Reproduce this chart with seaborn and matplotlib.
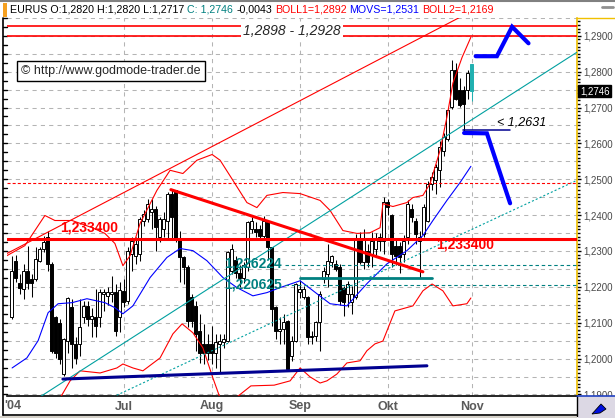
import numpy as np
import pandas as pd
import matplotlib
matplotlib.use("Agg")
import matplotlib.pyplot as plt
import matplotlib.patches as patches
from matplotlib.lines import Line2D
from matplotlib.ticker import MultipleLocator, FuncFormatter
import seaborn as sns

# ------------------------------------------------------------
# Daten: EUR/USD Tageskerzen (Tag 0 = 24.05.2004 ... Tag 115 = 01.11.2004)
# ------------------------------------------------------------
opens = [1.2115, 1.2273, 1.2212, 1.2194, 1.2245, 1.2222, 1.2222, 1.2273, 1.2306, 1.2338,
         1.2264, 1.2115, 1.2100, 1.1958, 1.2050, 1.2143, 1.2040, 1.2040, 1.2115, 1.2147,
         1.2110, 1.2115, 1.2115, 1.2180, 1.2175, 1.2180, 1.2185, 1.2115, 1.2189, 1.2161,
         1.2292, 1.2287, 1.2292, 1.2385, 1.2390, 1.2410, 1.2418, 1.2338, 1.2362, 1.2385,
         1.2460, 1.2469, 1.2334, 1.2282, 1.2255, 1.2171, 1.2147, 1.2077, 1.2040, 1.2040,
         1.2040, 1.2017, 1.2040, 1.2045, 1.2050, 1.2245, 1.2275, 1.2240, 1.2225, 1.2255,
         1.2362, 1.2362, 1.2362, 1.2343, 1.2380, 1.2310, 1.2143, 1.2077, 1.2082, 1.2105,
         1.2008, 1.2050, 1.2185, 1.2171, 1.2171, 1.2064, 1.2064, 1.2101, 1.2222, 1.2236,
         1.2269, 1.2264, 1.2255, 1.2198, 1.2180, 1.2157, 1.2171, 1.2334, 1.2269, 1.2300,
         1.2292, 1.2306, 1.2329, 1.2329, 1.2436, 1.2399, 1.2315, 1.2315, 1.2292, 1.2338,
         1.2418, 1.2385, 1.2329, 1.2348, 1.2385, 1.2487, 1.2497, 1.2525, 1.2580, 1.2613,
         1.2702, 1.2804, 1.2748, 1.2748, 1.2748, 1.2820]
highs = [1.2287, 1.2290, 1.2236, 1.2264, 1.2315, 1.2236, 1.2310, 1.2310, 1.2343, 1.2357,
         1.2268, 1.2120, 1.2110, 1.2058, 1.2171, 1.2166, 1.2060, 1.2166, 1.2161, 1.2161,
         1.2140, 1.2194, 1.2194, 1.2194, 1.2200, 1.2230, 1.2208, 1.2213, 1.2222, 1.2310,
         1.2338, 1.2340, 1.2394, 1.2415, 1.2445, 1.2445, 1.2425, 1.2395, 1.2410, 1.2464,
         1.2469, 1.2470, 1.2357, 1.2287, 1.2260, 1.2180, 1.2161, 1.2124, 1.2096, 1.2070,
         1.2092, 1.2068, 1.2068, 1.2070, 1.2301, 1.2320, 1.2285, 1.2260, 1.2268, 1.2385,
         1.2395, 1.2380, 1.2372, 1.2398, 1.2385, 1.2312, 1.2148, 1.2115, 1.2124, 1.2108,
         1.2064, 1.2212, 1.2220, 1.2203, 1.2175, 1.2077, 1.2105, 1.2189, 1.2255, 1.2320,
         1.2290, 1.2275, 1.2264, 1.2203, 1.2215, 1.2203, 1.2347, 1.2352, 1.2360, 1.2320,
         1.2352, 1.2350, 1.2350, 1.2450, 1.2445, 1.2404, 1.2330, 1.2325, 1.2345, 1.2441,
         1.2430, 1.2392, 1.2357, 1.2432, 1.2495, 1.2520, 1.2543, 1.2608, 1.2630, 1.2697,
         1.2832, 1.2823, 1.2781, 1.2760, 1.2804, 1.2820]
lows = [1.2110, 1.2213, 1.2180, 1.2166, 1.2194, 1.2171, 1.2217, 1.2268, 1.2296, 1.2245,
        1.2017, 1.2003, 1.1985, 1.1952, 1.2017, 1.1975, 1.1985, 1.2008, 1.2100, 1.2090,
        1.2060, 1.2059, 1.2087, 1.2133, 1.2150, 1.2157, 1.2063, 1.2073, 1.2143, 1.2152,
        1.2245, 1.2265, 1.2273, 1.2370, 1.2380, 1.2360, 1.2301, 1.2325, 1.2338, 1.2334,
        1.2330, 1.2325, 1.2213, 1.2208, 1.2087, 1.2087, 1.2022, 1.1989, 1.1985, 1.1995,
        1.1985, 1.1975, 1.1961, 1.2030, 1.2045, 1.2235, 1.2225, 1.2200, 1.2210, 1.2245,
        1.2350, 1.2340, 1.2330, 1.2335, 1.2278, 1.2090, 1.2054, 1.2040, 1.2040, 1.1966,
        1.1994, 1.2045, 1.2170, 1.2166, 1.2040, 1.2040, 1.2050, 1.2022, 1.2210, 1.2200,
        1.2255, 1.2245, 1.2150, 1.2119, 1.2143, 1.2124, 1.2166, 1.2264, 1.2250, 1.2255,
        1.2255, 1.2290, 1.2300, 1.2292, 1.2400, 1.2255, 1.2260, 1.2240, 1.2270, 1.2320,
        1.2380, 1.2320, 1.2225, 1.2340, 1.2380, 1.2470, 1.2459, 1.2478, 1.2565, 1.2608,
        1.2697, 1.2720, 1.2702, 1.2631, 1.2725, 1.2717]
closes = [1.2245, 1.2226, 1.2197, 1.2245, 1.2212, 1.2212, 1.2278, 1.2306, 1.2324, 1.2264,
          1.2022, 1.2017, 1.2000, 1.2054, 1.2168, 1.2040, 1.2003, 1.2087, 1.2147, 1.2110,
          1.2120, 1.2092, 1.2185, 1.2185, 1.2185, 1.2185, 1.2077, 1.2190, 1.2157, 1.2300,
          1.2329, 1.2320, 1.2390, 1.2404, 1.2432, 1.2418, 1.2366, 1.2390, 1.2390, 1.2460,
          1.2394, 1.2334, 1.2282, 1.2255, 1.2105, 1.2105, 1.2068, 1.2017, 1.2017, 1.2017,
          1.2017, 1.2045, 1.2050, 1.2054, 1.2296, 1.2305, 1.2240, 1.2225, 1.2262, 1.2380,
          1.2385, 1.2352, 1.2343, 1.2385, 1.2310, 1.2138, 1.2077, 1.2082, 1.2101, 1.1970,
          1.2050, 1.2208, 1.2194, 1.2194, 1.2059, 1.2059, 1.2101, 1.2180, 1.2245, 1.2273,
          1.2287, 1.2250, 1.2161, 1.2157, 1.2208, 1.2180, 1.2334, 1.2269, 1.2335, 1.2270,
          1.2329, 1.2334, 1.2338, 1.2436, 1.2422, 1.2292, 1.2287, 1.2283, 1.2329, 1.2432,
          1.2394, 1.2348, 1.2338, 1.2422, 1.2487, 1.2506, 1.2534, 1.2590, 1.2618, 1.2692,
          1.2804, 1.2725, 1.2706, 1.2710, 1.2795, 1.2746]

# Bollinger-Baender und gleitender Durchschnitt (Stuetzpunkte: Tag, Kurs)
boll1_day = [-1.2, 3.3, 8.3, 10.8, 15.1, 20.1, 23.3, 25.8, 27.8, 29.6, 32.1, 36.3, 39.6, 42.8,
             46.3, 50.1, 52.1, 55.3, 58.8, 61.3, 63.8, 67.8, 72.1, 77.1, 79.6, 82.8, 86.3,
             89.6, 92.1, 92.8, 95.3, 98.8, 100.3, 102.8, 104.6, 107.1, 108.8, 110.3, 112.6, 114.8]
boll1_val = [1.2287, 1.2315, 1.2399, 1.2385, 1.2385, 1.2365, 1.2349, 1.2321, 1.2259, 1.2287,
             1.2377, 1.2469, 1.2525, 1.2516, 1.2553, 1.2569, 1.2553, 1.2497, 1.2435, 1.2421,
             1.2455, 1.2463, 1.2460, 1.2441, 1.2413, 1.2357, 1.2349, 1.2351, 1.2365, 1.2432,
             1.2424, 1.2435, 1.2449, 1.2455, 1.2488, 1.2581, 1.2673, 1.2768, 1.2840, 1.2896]
boll2_day = [10.8, 12.1, 14.6, 17.1, 22.1, 26.3, 27.8, 30.3, 32.8, 37.1, 40.3, 42.6, 45.3,
             47.8, 50.3, 52.1, 53.3, 55.1, 56.3, 59.8, 65.6, 69.6, 72.1, 74.6, 77.1, 78.8,
             81.3, 83.8, 87.1, 88.8, 90.8, 92.8, 95.8, 100.3, 102.8, 105.1, 107.8, 110.3, 113.8, 114.8]
boll2_val = [1.1881, 1.1890, 1.1938, 1.1966, 1.1960, 1.1974, 1.1985, 1.1974, 1.1966, 1.2002,
             1.2069, 1.2097, 1.2072, 1.2030, 1.1946, 1.1890, 1.1848, 1.1848, 1.1893, 1.1924,
             1.1926, 1.1938, 1.1974, 1.1949, 1.1932, 1.1938, 1.1957, 1.1988, 1.1994, 1.2022,
             1.2041, 1.2049, 1.2133, 1.2147, 1.2189, 1.2208, 1.2189, 1.2147, 1.2153, 1.2169]
movs_day = [0.1, 3.8, 6.6, 9.1, 11.6, 15.1, 18.8, 23.3, 25.8, 27.8, 30.3, 34.6, 38.8, 42.1,
            45.3, 48.8, 52.8, 56.3, 60.3, 63.8, 67.1, 72.1, 76.3, 79.6, 83.8, 88.8, 93.8,
            98.8, 102.8, 105.3, 108.8, 112.1, 114.8]
movs_val = [1.1974, 1.2002, 1.2050, 1.2128, 1.2153, 1.2156, 1.2167, 1.2156, 1.2142, 1.2125,
            1.2147, 1.2226, 1.2282, 1.2307, 1.2301, 1.2273, 1.2226, 1.2198, 1.2175, 1.2184,
            1.2198, 1.2217, 1.2181, 1.2153, 1.2147, 1.2209, 1.2264, 1.2301, 1.2343, 1.2385,
            1.2441, 1.2491, 1.2536]

# Trendlinien und Marken (Tag, Kurs)
channel_red = [(-1.2, 1.2293), (111.8, 1.2950)]
channel_teal = [(6.6, 1.1890), (141.3, 1.2854)]
channel_teal_dotted = [(25.3, 1.1893), (141.3, 1.2497)]
triangle_top = [(39.8, 1.2471), (102.8, 1.2242)]
support_line = [(12.8, 1.1943), (103.8, 1.1980)]
target_up = [(116.0, 1.2843), (121.3, 1.2843), (125.1, 1.2925), (129.2, 1.2879)]
target_down = [(113.1, 1.2629), (118.8, 1.2628), (124.6, 1.2433)]
stop_line = [(112.8, 1.2637), (124.6, 1.2637)]
zone_levels = [1.2898, 1.2928]
key_level = 1.2334
dash_level = 1.2489
teal_levels = [1.226224, 1.220625]
teal_box = [(72.1, 1.2224), (105.1, 1.2224)]

month_days = [28, 50, 72, 94, 115]
month_labels = ["Jul", "Aug", "Sep", "Okt", "Nov"]
last_close = closes[-1]

header_parts = ["EURUS O:1,2820 H:1,2820 L:1,2717", "C: 1,2746", "-0,0043",
                "BOLL1=1,2892", "MOVS=1,2531", "BOLL2=1,2169"]

# ------------------------------------------------------------
# Stil
# ------------------------------------------------------------
sns.set_style("white")
plt.rcParams["font.family"] = ["Liberation Sans", "DejaVu Sans"]
plt.rcParams["lines.scale_dashes"] = False

W, H = 615, 418
fig = plt.figure(figsize=(W / 100, H / 100), dpi=100, facecolor="white")
ax = fig.add_axes([7 / W, 1 - 396 / H, 570 / W, 378 / H])
ax.set_facecolor("white")

RED = "#ff0000"
BLUE = "#0000ff"
NAVY = "#000090"
TEAL = "#00a0a0"
TEAL_D = "#008080"

# Raster
for d in month_days:
    ax.axvline(d - 0.05, color="#b4b4b4", lw=0.75, ls=(0, (3, 3)), zorder=1)
for lvl in np.arange(1.190, 1.2951, 0.005):
    ax.axhline(lvl, color="#b4b4b4", lw=0.75, ls=(0, (3, 3)), zorder=1)

# Kerzen
df = pd.DataFrame({"O": opens, "H": highs, "L": lows, "C": closes})
df["day"] = np.arange(len(df))
hist = df.iloc[:-1]
up = hist["C"] >= hist["O"]
ax.vlines(hist["day"], hist["L"], hist["H"], color="black", lw=0.75, zorder=3)
ax.bar(hist["day"], (hist["C"] - hist["O"]).abs(), bottom=hist[["O", "C"]].min(axis=1),
       width=0.72, color=np.where(up, "white", "black"), edgecolor="black", linewidth=0.7, zorder=3)
last = df.iloc[-1]
ax.vlines(last["day"], last["L"], last["H"], color="#20b0b0", lw=0.75, zorder=3)
ax.bar(last["day"], abs(last["C"] - last["O"]), bottom=min(last["O"], last["C"]),
       width=0.72, color="#20b0b0", edgecolor="#20b0b0", linewidth=0.7, zorder=3)

# Indikatoren
sns.lineplot(x=boll1_day, y=boll1_val, ax=ax, color=RED, lw=0.8, estimator=None, sort=False, zorder=4)
sns.lineplot(x=boll2_day, y=boll2_val, ax=ax, color=RED, lw=0.8, estimator=None, sort=False, zorder=4)
sns.lineplot(x=movs_day, y=movs_val, ax=ax, color=BLUE, lw=0.8, estimator=None, sort=False, zorder=4)


def seg(points, **kw):
    xs, ys = zip(*points)
    ax.plot(xs, ys, **kw)


seg(channel_red, color=RED, lw=0.8, zorder=4)
seg(channel_teal, color=TEAL, lw=0.8, zorder=4)
seg(channel_teal_dotted, color=TEAL, lw=0.8, ls=(0, (1.5, 1.5)), zorder=4)
seg(triangle_top, color=RED, lw=2.2, zorder=5)
seg(support_line, color=NAVY, lw=2.2, zorder=5)
seg(teal_box, color=TEAL_D, lw=2.0, zorder=5)
seg(stop_line, color=NAVY, lw=1.1, zorder=5)
seg(target_up, color=BLUE, lw=3.0, zorder=6, solid_joinstyle="miter")
seg(target_down, color=BLUE, lw=3.0, zorder=6, solid_joinstyle="miter")

for lvl in zone_levels:
    ax.axhline(lvl, color=RED, lw=1.2, zorder=4)
ax.axhline(key_level, color=RED, lw=2.2, zorder=5)
ax.axhline(dash_level, color=RED, lw=0.8, ls=(0, (2.2, 1.5)), zorder=4)
for lvl in teal_levels:
    ax.plot([68.3, 141.4], [lvl, lvl], color=TEAL_D, lw=0.8, ls=(0, (2.5, 2)), zorder=4)

# Beschriftungen im Chart
ax.text(70.1, 1.2913, "1,2898 - 1,2928", fontsize=10, style="italic", ha="center", va="center",
        bbox=dict(facecolor="white", edgecolor="none", pad=1.5), zorder=7)
ax.text(12.1, 1.2365, "1,233400", fontsize=10, fontweight="bold", color=RED, ha="left", va="center", zorder=7)
ax.text(106.1, 1.2318, "1,233400", fontsize=10, fontweight="bold", color=RED, ha="left", va="center", zorder=7)
ax.text(53.1, 1.2264, "1,226224", fontsize=10, fontweight="bold", color=TEAL_D, ha="left", va="center", zorder=7)
ax.text(53.1, 1.2206, "1,220625", fontsize=10, fontweight="bold", color=TEAL_D, ha="left", va="center", zorder=7)
ax.text(121.3, 1.2659, "< 1,2631", fontsize=9, style="italic", color="black", ha="left", va="center", zorder=7)
fig.text(21 / W, 1 - 71 / H, "\u00a9 http://www.godmode-trader.de", fontsize=9, ha="left", va="center",
         bbox=dict(boxstyle="square,pad=0.35", facecolor="white", edgecolor="black", lw=1), zorder=8)

# Achsen
ax.set_xlim(-1.175, 141.325)
ax.set_ylim(1.18958, 1.29495)
ax.set_xlabel("")
ax.set_ylabel("")
ax.set_xticks([])
ax.yaxis.tick_right()
ax.yaxis.set_major_locator(MultipleLocator(0.01))
ax.yaxis.set_minor_locator(MultipleLocator(0.001))
ax.yaxis.set_major_formatter(FuncFormatter(lambda v, p: f"{v:.4f}".replace(".", ",")))
ax.tick_params(axis="y", which="major", length=3, width=1, color="black", labelsize=7,
               labelcolor="#484848", pad=1.5)
ax.tick_params(axis="y", which="minor", length=2, width=1, color="black")
for side in ["top", "left"]:
    ax.spines[side].set_visible(False)
ax.spines["bottom"].set_color("black")
ax.spines["bottom"].set_linewidth(1.2)
ax.spines["right"].set_color("#f0c000")
ax.spines["right"].set_linewidth(1.2)

# linke Skalenstriche
ytr = ax.get_yaxis_transform()
for lvl in np.arange(1.190, 1.2951, 0.0025):
    ax.plot([-0.007, 0], [lvl, lvl], transform=ytr, color="black", lw=1, clip_on=False)
fig.add_artist(Line2D([2.7 / W, 2.7 / W], [1 - 18 / H, 1 - 415 / H], color="black", lw=1.2))

# aktueller Kurs
ax.text(1.005, last_close, f"{last_close:.4f}".replace(".", ","), transform=ytr, fontsize=7,
        color="white", ha="left", va="center", clip_on=False,
        bbox=dict(facecolor="black", edgecolor="black", pad=1.0), zorder=9)

# Zeitachse
xtr = ax.get_xaxis_transform()
for d, lab in zip(month_days, month_labels):
    ax.text(d, -10.5 / 378, lab, transform=xtr, fontsize=9, fontweight="bold", color="#5a5a5a",
            ha="center", va="center", clip_on=False)
fig.text(4 / W, 1 - 406 / H, "'04", fontsize=9, fontweight="bold", color="#5a5a5a", ha="left", va="center")
fig.add_artist(Line2D([2.7 / W, 577 / W], [1 - 415 / H, 1 - 415 / H], color="black", lw=1.2))
fig.add_artist(Line2D([577 / W, 577 / W], [1 - 396 / H, 1 - 416 / H], color="black", lw=1))

# Rahmen / Kopfzeile
fig.add_artist(patches.Rectangle((0, 0), 577 / W, 2.5 / H, transform=fig.transFigure,
                                 facecolor="#d4d0c8", edgecolor="none"))
fig.add_artist(patches.Rectangle((577.5 / W, 0), 37.5 / W, 22 / H, transform=fig.transFigure,
                                 facecolor="#dcd8e4", edgecolor="none"))
fig.add_artist(Line2D([577 / W, 1], [1 - 396 / H, 1 - 396 / H], color="#2040c0", lw=1.2))
fig.add_artist(patches.Polygon([[592 / W, 1 - 414 / H], [601 / W, 1 - 404 / H], [606 / W, 1 - 409 / H],
                                [600 / W, 1 - 413 / H]], closed=True, transform=fig.transFigure,
                               facecolor="#0010e0", edgecolor="black", lw=0.6))
fig.add_artist(Line2D([577 / W, 1], [1 - 18 / H, 1 - 18 / H], color="#f0c000", lw=1))
fig.add_artist(Line2D([0, 1], [1 - 0.5 / H, 1 - 0.5 / H], color="#808080", lw=1.5))
fig.add_artist(patches.Rectangle((2.5 / W, 1 - 17 / H), 4.5 / W, 14 / H, transform=fig.transFigure,
                                 facecolor="#f5a020", edgecolor="none"))
fig.add_artist(Line2D([602 / W, 613 / W], [1 - 7 / H, 1 - 7 / H], color="#909090", lw=2))

# Kopfzeile: Teile nacheinander setzen, Gesamtbreite ca. 10..492 px
renderer = fig.canvas.get_renderer()
probe = fig.text(0, 0, " ".join(header_parts), fontsize=10)
full_w = probe.get_window_extent(renderer).width
probe.remove()
head_fs = 10 * 482 / full_w
head_y = 1 - 10 / H
header_colors = ["black", TEAL_D, "black", RED, BLUE, RED]
x_px = 10
for txt, col in zip(header_parts, header_colors):
    t = fig.text(x_px / W, head_y, txt, fontsize=head_fs, color=col, ha="left", va="center")
    bb = t.get_window_extent(renderer)
    sp = fig.text(0, 0, "a a", fontsize=head_fs)
    sp_w = sp.get_window_extent(renderer).width
    sp2 = fig.text(0, 0, "aa", fontsize=head_fs)
    sp_w -= sp2.get_window_extent(renderer).width
    sp.remove()
    sp2.remove()
    x_px = bb.x1 + sp_w

fig.savefig("out.png", dpi=100, facecolor="white")
